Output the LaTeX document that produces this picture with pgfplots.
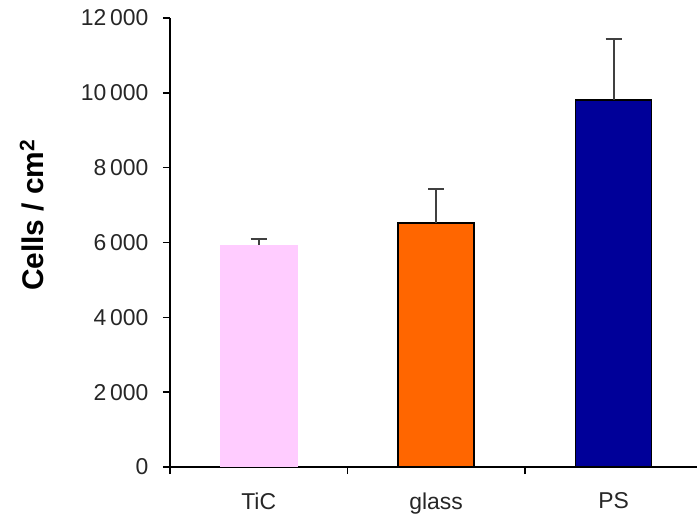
\documentclass[border=0pt]{standalone}
\usepackage{pgfplots}
\pgfplotsset{compat=1.18}
\usepackage{fontspec}
\setmainfont{Liberation Sans}
\definecolor{tic}{HTML}{FFCCFF}
\definecolor{glass}{HTML}{FF6600}
\definecolor{ps}{HTML}{000099}
\definecolor{errc}{HTML}{404040}
\begin{document}
\begin{tikzpicture}
\begin{axis}[
  scale only axis,
  width=527bp, height=449bp,
  xmin=-0.5, xmax=2.47,
  ymin=0, ymax=12000,
  axis lines=left,
  axis line style={line width=1.5bp, -},
  tick align=outside,
  major tick length=7bp,
  tick style={line width=1.5bp, black},
  ytick={0,2000,...,12000},
  scaled y ticks=false,
  yticklabel style={xshift=-11bp, /pgf/number format/.cd, fixed, precision=0, 1000 sep={\,}, assume math mode=true},
  xtick={-0.5,0.5,1.5},
  xticklabels={},
  extra x ticks={0,1,2},
  extra x tick labels={TiC,glass,PS},
  extra x tick style={major tick length=0pt, xticklabel style={yshift=-22bp}},
  ticklabel style={font=\fontsize{23}{27}\selectfont, text=black!85},
  every axis y label/.style={at={(axis description cs:-0.262,0.561)}, rotate=90, anchor=center},
  ylabel={\fontsize{30}{34}\selectfont\bfseries Cells / cm$^{\mathbf{2}}$},
  clip=false,
]
\addplot[ybar, bar width=78bp, fill=tic, draw=none,
  error bars/.cd, y dir=plus, y explicit,
  error bar style={line width=2bp, errc},
  error mark options={rotate=90, mark size=8bp, line width=2bp, errc}]
  coordinates {(0,5940) +- (0,160)};
\addplot[ybar, bar width=76bp, fill=glass, draw=black, line width=1.5bp,
  error bars/.cd, y dir=plus, y explicit,
  error bar style={line width=2bp, errc},
  error mark options={rotate=90, mark size=8bp, line width=2bp, errc}]
  coordinates {(1,6520) +- (0,920)};
\addplot[ybar, bar width=76bp, fill=ps, draw=black, line width=1.5bp,
  error bars/.cd, y dir=plus, y explicit,
  error bar style={line width=2bp, errc},
  error mark options={rotate=90, mark size=8bp, line width=2bp, errc}]
  coordinates {(2,9810) +- (0,1630)};
\coordinate (BL) at (rel axis cs:0,0);
\coordinate (TR) at (rel axis cs:1,1);
\end{axis}
\pgfresetboundingbox
\path[use as bounding box] ([shift={(-170bp,-50bp)}]BL) rectangle ([shift={(0bp,18bp)}]TR);
\end{tikzpicture}
\end{document}
